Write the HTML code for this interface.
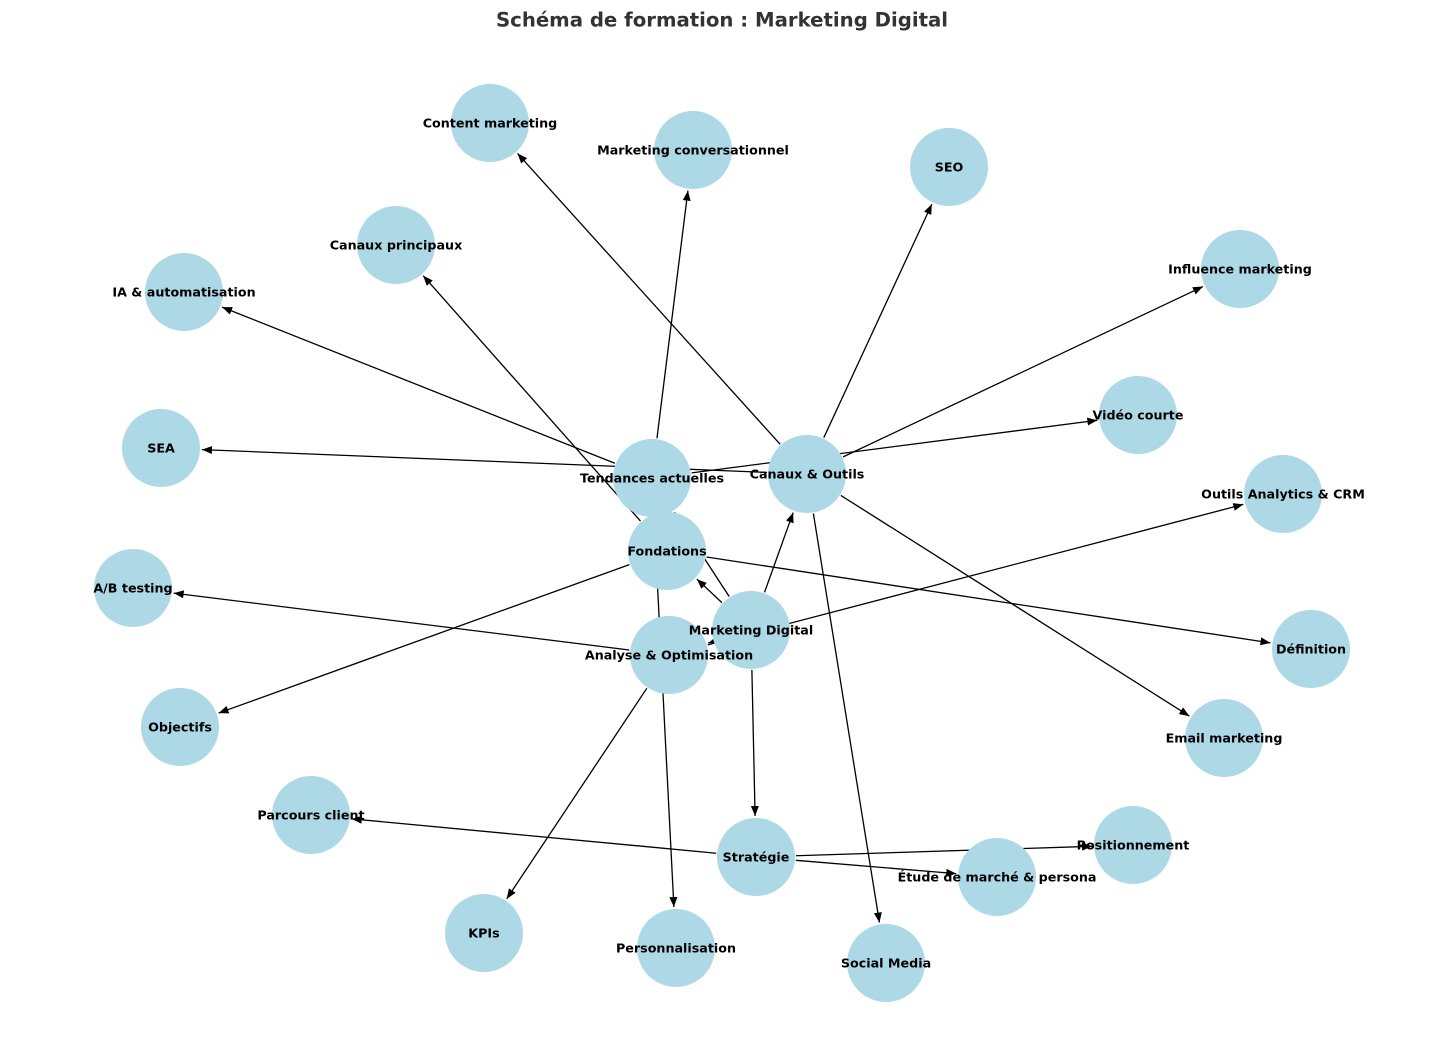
<!DOCTYPE html>
<html><head><meta charset="utf-8"><style>
html,body{margin:0;padding:0;background:#fff;}
svg{display:block}
text{font-family:"DejaVu Sans","Liberation Sans",sans-serif;}
.n text{font-size:12.7px;font-weight:bold;text-anchor:middle;dominant-baseline:central;fill:#000}
.n circle{fill:#add8e6}
</style></head><body>
<svg id="s" width="1445" height="1062" viewBox="0 0 1445 1062" xmlns="http://www.w3.org/2000/svg">
<defs><marker id="a" viewBox="0 0 10 8" refX="10" refY="4" markerWidth="10" markerHeight="8" markerUnits="userSpaceOnUse" orient="auto"><path d="M0,0 L10,4 L0,8 z" fill="#000"/></marker></defs>
<text x="722" y="20" text-anchor="middle" dominant-baseline="central" font-size="19.7" font-weight="bold" fill="#333">Schéma de formation : Marketing Digital</text>
<g id="e"></g>
<g class="n">
<circle cx="490" cy="123" r="39"/><text x="490" y="123">Content marketing</text>
<circle cx="693" cy="150" r="39"/><text x="693" y="150">Marketing conversationnel</text>
<circle cx="949" cy="167" r="39"/><text x="949" y="167">SEO</text>
<circle cx="396" cy="245" r="39"/><text x="396" y="245">Canaux principaux</text>
<circle cx="184" cy="292" r="39"/><text x="184" y="292">IA &amp; automatisation</text>
<circle cx="1240" cy="269" r="39"/><text x="1240" y="269">Influence marketing</text>
<circle cx="1138" cy="415" r="39"/><text x="1138" y="415">Vidéo courte</text>
<circle cx="161" cy="448" r="39"/><text x="161" y="448">SEA</text>
<circle cx="652" cy="478" r="39"/>
<circle cx="807" cy="474" r="39"/>
<circle cx="1283" cy="494" r="39"/><text x="1283" y="494">Outils Analytics &amp; CRM</text>
<circle cx="667" cy="551" r="39"/>
<circle cx="133" cy="588" r="39"/><text x="133" y="588">A/B testing</text>
<circle cx="751" cy="630" r="39"/>
<circle cx="669" cy="655" r="39"/>
<circle cx="1311" cy="649" r="39"/><text x="1311" y="649">Définition</text>
<circle cx="180" cy="727" r="39"/><text x="180" y="727">Objectifs</text>
<circle cx="1224" cy="738" r="39"/><text x="1224" y="738">Email marketing</text>
<circle cx="311" cy="815" r="39"/><text x="311" y="815">Parcours client</text>
<circle cx="1133" cy="845" r="39"/>
<circle cx="756" cy="857" r="39"/><text x="756" y="857">Stratégie</text>
<circle cx="997" cy="877" r="39"/>
<circle cx="484" cy="933" r="39"/><text x="484" y="933">KPIs</text>
<circle cx="676" cy="948" r="39"/><text x="676" y="948">Personnalisation</text>
<circle cx="886" cy="963" r="39"/><text x="886" y="963">Social Media</text>
<text x="652" y="478">Tendances actuelles</text>
<text x="807" y="474">Canaux &amp; Outils</text>
<text x="667" y="551">Fondations</text>
<text x="751" y="630">Marketing Digital</text>
<text x="669" y="655">Analyse &amp; Optimisation</text>
<text x="1133" y="845">Positionnement</text>
<text x="997" y="877">Étude de marché &amp; persona</text>
</g>
</svg>
<script>
var P={CM:[490,123],MC:[693,150],SEO:[949,167],CP:[396,245],IA:[184,292],IM:[1240,269],VC:[1138,415],SEA:[161,448],TA:[652,478],CO:[807,474],OA:[1283,494],F:[667,551],AB:[133,588],MD:[751,630],AO:[669,655],D:[1311,649],O:[180,727],EM:[1224,738],PC:[311,815],PO:[1133,845],S:[756,857],EMP:[997,877],K:[484,933],PE:[676,948],SM:[886,963]};
var E=[["MD","F"],["MD","CO"],["MD","S"],["MD","AO"],["MD","TA"],["F","D"],["F","O"],["F","CP"],["S","PC"],["S","PO"],["S","EMP"],["CO","SEO"],["CO","SEA"],["CO","SM"],["CO","EM"],["CO","CM"],["CO","IM"],["AO","K"],["AO","AB"],["AO","OA"],["TA","IA"],["TA","VC"],["TA","MC"],["TA","PE"]];
var g=document.getElementById("e"),h="";
E.forEach(function(e){var a=P[e[0]],b=P[e[1]],dx=b[0]-a[0],dy=b[1]-a[1],L=Math.hypot(dx,dy),ux=dx/L,uy=dy/L;
var x1=a[0]+ux*40,y1=a[1]+uy*40,x2=b[0]-ux*41,y2=b[1]-uy*41;
h+='<line x1="'+x1+'" y1="'+y1+'" x2="'+x2+'" y2="'+y2+'" stroke="#000" stroke-width="1.3" marker-end="url(#a)"/>';});
g.innerHTML=h;
</script>
</body></html>
